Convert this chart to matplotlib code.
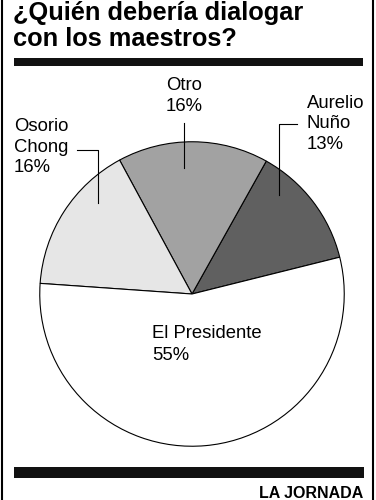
import matplotlib.pyplot as plt

plt.rcParams['font.family'] = ['Liberation Sans', 'DejaVu Sans']

# data, counterclockwise from the right
labels = ["Aurelio\nNuño", "Otro", "Osorio\nChong", "El Presidente"]
values = [13, 16, 16, 55]
colors = ["#606060", "#a2a2a2", "#e6e6e6", "#ffffff"]

W, H = 376, 500
fig = plt.figure(figsize=(W / 100, H / 100), dpi=100)

# pie, centre (192, 294) px, radius 153 px
cx, cy, r = 192, 294, 153
ax_pie = fig.add_axes([(cx - r) / W, (H - cy - r) / H, 2 * r / W, 2 * r / H])
ax_pie.pie(values, colors=colors, startangle=14, counterclock=True,
           wedgeprops=dict(edgecolor="black", linewidth=0.8))
ax_pie.set_xlim(-1.005, 1.005)
ax_pie.set_ylim(-1.005, 1.005)
ax_pie.set_aspect("equal")

# overlay in pixel coords
ax = fig.add_axes([0, 0, 1, 1], facecolor="none")
ax.set_xlim(0, W)
ax.set_ylim(H, 0)
ax.axis("off")

# frame lines left/right
ax.plot([2, 2], [0, H], color="black", lw=1.5)
ax.plot([373, 373], [0, H], color="black", lw=1.5)

# title
ax.text(13, 13, "¿Quién debería dialogar", fontsize=18.3, fontweight="bold",
        ha="left", va="center")
ax.text(13, 39, "con los maestros?", fontsize=18.3, fontweight="bold",
        ha="left", va="center")
ax.fill_between([14, 363], 58, 65.5, color="#111111", lw=0)
ax.fill_between([14, 364], 467, 477.5, color="#111111", lw=0)
ax.text(363, 493, "LA JORNADA", fontsize=11.5, fontweight="bold",
        ha="right", va="center")

fs = 13.3
ls = 1.3
pct = [f"{v}%" for v in values]
ax.text(184, 96, f"{labels[1]}\n{pct[1]}", fontsize=fs, ha="center", va="center",
        linespacing=ls)
ax.text(307, 124, f"{labels[0]}\n{pct[0]}", fontsize=fs, ha="left", va="center",
        linespacing=ls)
ax.text(14, 147, f"{labels[2]}\n{pct[2]}", fontsize=fs, ha="left", va="center",
        linespacing=ls)
ax.text(152, 344.5, f"{labels[3]}\n{pct[3]}", fontsize=fs, ha="left", va="center",
        linespacing=1.4)

# leader lines
ax.plot([184, 184], [123, 168], color="black", lw=0.8)
ax.plot([297, 279, 279], [124, 124, 195], color="black", lw=0.8)
ax.plot([77, 98, 98], [150, 150, 203], color="black", lw=0.8)

fig.savefig("out.png", dpi=100)
